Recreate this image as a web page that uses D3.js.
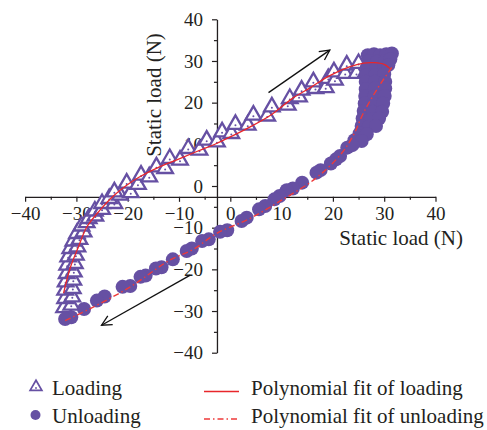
<!DOCTYPE html>
<html>
<head>
<meta charset="utf-8">
<script src="https://cdn.jsdelivr.net/npm/d3@7"></script>
<style>
  body { margin: 0; background: #fff; }
  text { font-family: "Liberation Serif", "Times New Roman", serif; fill: #231f20; }
</style>
</head>
<body>
<svg id="chart" width="487" height="430"></svg>
<script>
// loading branch (upper), x = displacement-ish, y = static load
const loading = [
  [-32.4,-29.2],[-31.0,-28.6],[-32.2,-27.0],[-30.8,-26.6],[-32.2,-25.0],[-30.7,-24.6],
  [-32.1,-23.0],[-30.6,-22.6],[-31.9,-21.0],[-30.5,-20.6],[-31.8,-19.0],[-30.3,-18.6],
  [-31.6,-17.0],[-30.1,-16.6],[-31.2,-15.0],[-29.8,-14.6],[-30.6,-13.2],[-29.4,-12.8],
  [-29.9,-11.4],[-28.6,-11.0],[-29.0,-9.6],[-28.0,-8.8],[-27.6,-7.8],[-26.3,-7.2],
  [-26.4,-6.0],[-25.0,-5.6],[-25.0,-4.2],[-22.6,-4.2],[-23.6,-3.0],[-21.5,-2.2],
  [-22.6,-1.4],[-19.4,-1.6],[-20.2,0.7],[-18.0,0.4],[-17.4,2.6],[-15.8,2.2],
  [-14.4,4.6],[-12.7,4.2],[-11.8,6.6],[-9.8,6.2],[-8.2,9.0],[-6.0,8.6],
  [-4.6,11.0],[-2.6,10.6],[-1.6,13.0],[0.2,12.6],[1.0,14.8],[3.4,14.6],
  [4.5,17.0],[7.2,16.8],[8.1,19.0],[11.2,19.4],[11.6,21.0],[13.4,21.4],
  [13.9,23.0],[16.6,23.4],[16.2,25.0],[18.6,23.6],[19.1,25.8],[20.4,25.4],
  [20.2,27.4],[22.4,27.0],[22.7,29.0],[24.6,27.0],[25.0,29.4],[26.4,27.2]
];

// unloading branch (lower), from the top right blob down to the bottom left
const unloading = [
  [26.8,31.4],[28.0,31.6],[29.2,31.4],[30.4,31.6],[31.5,31.8],
  [27.0,30.0],[28.6,29.8],[30.2,30.0],[31.2,30.4],
  [26.6,28.4],[28.4,28.2],[30.0,28.4],[30.8,29.0],
  [26.5,26.6],[28.2,26.6],[30.0,26.8],
  [26.4,25.0],[28.2,25.0],[30.2,25.0],
  [26.4,23.2],[28.2,23.4],[30.2,23.4],
  [26.3,21.6],[28.0,21.4],[30.1,21.6],
  [26.2,19.8],[28.0,19.6],[29.8,19.8],
  [26.0,18.0],[27.8,17.8],[29.6,17.8],
  [25.8,16.2],[27.4,16.0],[29.0,16.2],
  [25.6,14.4],[27.0,14.2],[28.4,14.4],
  [25.2,12.6],[26.6,12.4],[24.2,11.0],[25.6,10.8],
  [22.8,9.2],[23.8,9.8],[21.4,7.2],[20.6,6.4],[19.6,5.4],
  [17.6,3.8],[16.8,3.2],[14.0,0.8],[12.2,-0.6],[11.0,-1.0],
  [9.6,-2.4],[8.6,-3.2],[6.8,-4.8],[5.6,-5.6],[3.2,-7.6],[2.2,-8.4],
  [-0.6,-10.6],[-2.0,-11.0],[-4.2,-12.8],[-5.5,-13.2],[-7.5,-15.0],[-8.5,-15.6],
  [-11.2,-17.6],[-13.4,-19.5],[-14.5,-19.8],[-16.5,-21.5],[-17.5,-21.8],
  [-19.5,-24.0],[-21.0,-24.2],[-24.5,-26.5],[-26.0,-27.5],[-28.5,-29.5],
  [-31.0,-31.5],[-32.2,-31.9]
];

// fitted curves
const loadingFit = [
  [-32.5,-25.7],[-31.2,-19.6],[-29.6,-14.6],[-28.0,-9.9],[-25.4,-5.8],[-22.8,-2.4],
  [-20.2,0.2],[-17.4,2.4],[-14.3,4.3],[-10.2,6.4],[-6.3,8.4],[-2.7,10.2],
  [0.2,11.9],[3.6,14.0],[8.0,17.1],[12.0,20.9],[15.6,23.6],[19.4,26.5],
  [23.2,28.6],[26.0,29.5],[28.0,29.6],[30.0,29.2],[31.1,28.2]
];
const unloadingFit = [
  [-32.2,-32.3],[-27.3,-29.4],[-19.5,-24.2],[-11.8,-17.8],[-7.2,-15.2],[-2.7,-11.4],
  [3.8,-7.8],[10.0,-3.4],[16.4,1.6],[21.4,7.4],[24.0,12.2],[25.9,17.4],
  [28.5,23.0],[31.1,27.8],[31.8,29.0]
];

const xTicks = [-40,-30,-20,-10,0,10,20,30,40];
const yTicks = [-40,-30,-20,-10,0,10,20,30,40];
const minorTicks = [-35,-25,-15,-5,5,15,25,35];
const axisCross = -2.6;

const arrows = [
  [[7.45,22.4],[19.4,32.6]],
  [[-7.8,-21.4],[-25.1,-33.4]]
];

const purple = "#6650a3";
const red = "#e8262b";

const svg = d3.select("#chart");

const x = d3.scaleLinear().domain([-40,40]).range([25.1,435.5]);
const y = d3.scaleLinear().domain([-40,40]).range([352.7,19.3]);

svg.append("defs").append("marker")
    .attr("id","arrowhead")
    .attr("markerUnits","userSpaceOnUse")
    .attr("viewBox","-12 -7 14 14")
    .attr("markerWidth",14).attr("markerHeight",14)
    .attr("refX",0).attr("refY",0)
    .attr("orient","auto")
  .append("path")
    .attr("d","M-10,-5L0,0L-10,5")
    .attr("fill","none")
    .attr("stroke","#111")
    .attr("stroke-width",1.3);

// axes
const xAxisY = y(axisCross), yAxisX = x(axisCross);

const gx = svg.append("g").attr("transform","translate(0,"+xAxisY+")");
gx.call(d3.axisBottom(x).tickValues(xTicks).tickSize(5).tickSizeOuter(0).tickPadding(5));
gx.append("g").call(d3.axisBottom(x).tickValues(minorTicks).tickSize(3).tickFormat(""))
  .select(".domain").remove();

const gy = svg.append("g").attr("transform","translate("+yAxisX+",0)");
gy.call(d3.axisLeft(y).tickValues(yTicks).tickSize(5).tickSizeOuter(0).tickPadding(9));
gy.append("g").call(d3.axisLeft(y).tickValues(minorTicks).tickSize(3).tickFormat(""))
  .select(".domain").remove();

svg.selectAll(".domain").attr("stroke","#231f20").attr("stroke-width",1.3);
svg.selectAll(".tick line").attr("stroke","#231f20").attr("stroke-width",1.2);
svg.selectAll(".tick text").style("font-family",'"Liberation Serif", serif')
   .style("font-size","19px").attr("fill","#231f20");

svg.append("text")
    .attr("x",463).attr("y",245)
    .attr("text-anchor","end")
    .style("font-size","21px")
    .text("Static load (N)");

svg.append("text")
    .attr("transform","translate(160.5,95) rotate(-90)")
    .attr("text-anchor","middle")
    .style("font-size","21px")
    .text("Static load (N)");

// markers
const tri = d3.symbol().type(d3.symbolTriangle).size(105);

const tg = svg.append("g");
tg.selectAll("path")
  .data(loading)
  .join("path")
    .attr("d",tri)
    .attr("transform",d => "translate("+x(d[0])+","+y(d[1])+")")
    .attr("fill","#fff")
    .attr("stroke",purple)
    .attr("stroke-width",2.3);
tg.selectAll("circle")
  .data(loading)
  .join("circle")
    .attr("cx",d => x(d[0]))
    .attr("cy",d => y(d[1]) + 1)
    .attr("r",1)
    .attr("fill",purple);

svg.append("g").selectAll("circle")
  .data(unloading)
  .join("circle")
    .attr("cx",d => x(d[0]))
    .attr("cy",d => y(d[1]))
    .attr("r",7)
    .attr("fill",purple);

// fit curves
const line = d3.line()
    .x(d => x(d[0]))
    .y(d => y(d[1]))
    .curve(d3.curveCatmullRom);

svg.append("path")
    .datum(loadingFit)
    .attr("d",line)
    .attr("fill","none")
    .attr("stroke",red)
    .attr("stroke-width",1.3);

svg.append("path")
    .datum(unloadingFit)
    .attr("d",line)
    .attr("fill","none")
    .attr("stroke","#ee3a3a")
    .attr("stroke-width",1.4)
    .attr("stroke-dasharray","6,3,1.5,3");

// arrows
svg.append("g").selectAll("line")
  .data(arrows)
  .join("line")
    .attr("x1",d => x(d[0][0])).attr("y1",d => y(d[0][1]))
    .attr("x2",d => x(d[1][0])).attr("y2",d => y(d[1][1]))
    .attr("stroke","#111")
    .attr("stroke-width",1.3)
    .attr("marker-end","url(#arrowhead)");

// legend
const lg = svg.append("g");
lg.append("path")
    .attr("d",d3.symbol().type(d3.symbolTriangle).size(60))
    .attr("transform","translate(36,387)")
    .attr("fill","#fff").attr("stroke",purple).attr("stroke-width",1.7);
lg.append("circle").attr("cx",36).attr("cy",388).attr("r",0.9).attr("fill",purple);
lg.append("text").attr("x",52).attr("y",395).style("font-size","21px").text("Loading");

lg.append("circle").attr("cx",35.5).attr("cy",415).attr("r",5).attr("fill",purple);
lg.append("text").attr("x",52).attr("y",423).style("font-size","21px").text("Unloading");

lg.append("line").attr("x1",204).attr("x2",239).attr("y1",391.5).attr("y2",391.5)
    .attr("stroke",red).attr("stroke-width",1.3);
lg.append("text").attr("x",251).attr("y",395).style("font-size","21px").text("Polynomial fit of loading");

lg.append("line").attr("x1",204).attr("x2",239).attr("y1",419).attr("y2",419)
    .attr("stroke","#ee3a3a").attr("stroke-width",1.4).attr("stroke-dasharray","6,3,1.5,3");
lg.append("text").attr("x",251).attr("y",423).style("font-size","21px").text("Polynomial fit of unloading");
</script>
</body>
</html>
